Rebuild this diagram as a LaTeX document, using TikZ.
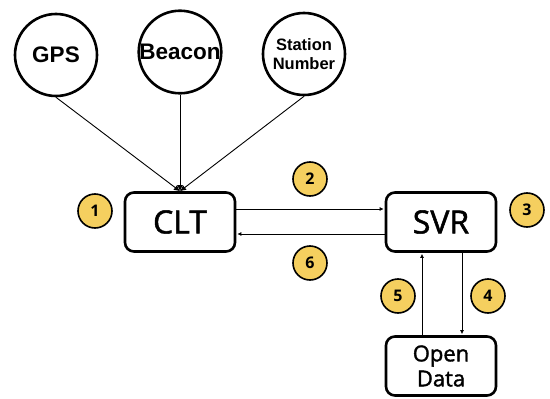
\documentclass[tikz,border=0pt]{standalone}
\usepackage{fontspec}
\setmainfont{Liberation Sans}
\newfontfamily\boxfont[RawFeature={embolden=1.6}]{Open Sans}
\newfontfamily\badgefont{Open Sans}
\usetikzlibrary{arrows.meta}
\definecolor{badgeyellow}{RGB}{245,207,95}
\tikzset{
  % data sources on top
  source/.style={circle,draw,line width=2.6pt,minimum size=82pt,inner sep=0pt,
    align=center,font=\bfseries\fontsize{22.5}{22.5}\selectfont},
  % client, server and open data boxes
  unit/.style={draw,line width=2.6pt,rounded corners=9pt,minimum width=110pt,
    minimum height=59pt,inner sep=0pt,align=center,font=\boxfont\fontsize{32}{32}\selectfont},
  % numbered steps
  badge/.style={circle,draw,fill=badgeyellow,line width=1.6pt,minimum size=34pt,
    inner sep=0pt,font=\badgefont\bfseries\fontsize{16}{16}\selectfont},
  feed/.style={line width=0.9pt,-{Latex[length=6pt,width=6pt]}},
  link/.style={line width=0.8pt,-{Latex[length=4pt,width=4pt]},shorten >=1pt},
}
\begin{document}
\begin{tikzpicture}[x=1pt,y=-1pt]
\useasboundingbox (0,0) rectangle (550,399);

\node[source] (gps) at (56,55) {GPS};
\node[source] (beacon) at (180,52) {Beacon};
\node[source,font=\bfseries\fontsize{16.5}{19}\selectfont] (station) at (304,54) {Station\\Number};

\node[unit] (clt) at (180,222) {CLT};
\node[unit] (svr) at (441,222) {SVR};
\node[unit,font=\boxfont\fontsize{22}{25}\selectfont] (odata) at (441,366) {Open\\Data};

% sources to client
\draw[feed] (gps.south) -- (clt.north);
\draw[feed] (beacon.south) -- (clt.north);
\draw[feed] (station.south) -- (clt.north);

% request / response
\draw[link] ([yshift=13pt]clt.east) -- ([yshift=13pt]svr.west);
\draw[link] ([yshift=-12pt]svr.west) -- ([yshift=-12pt]clt.east);
\draw[link] ([xshift=21pt]svr.south) -- ([xshift=21pt]odata.north);
\draw[link] ([xshift=-19pt]odata.north) -- ([xshift=-19pt]svr.south);

\node[badge] (b1) at (95,211) {1};
\node[badge] (b2) at (310,179) {2};
\node[badge] (b3) at (527,210) {3};
\node[badge] (b4) at (488,296) {4};
\node[badge] (b5) at (398,296) {5};
\node[badge] (b6) at (310,263) {6};

\end{tikzpicture}
\end{document}
